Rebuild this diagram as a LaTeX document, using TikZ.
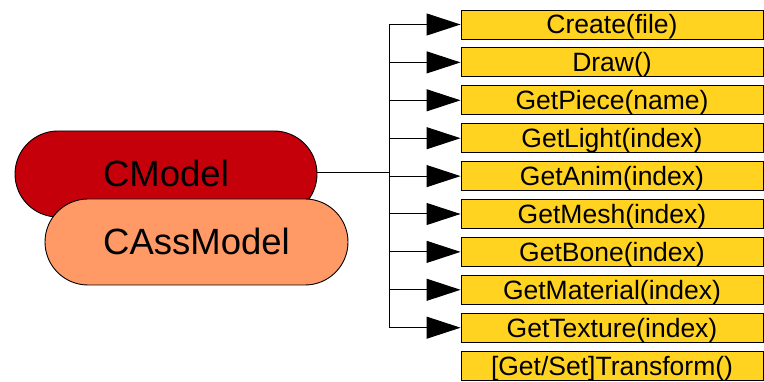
\documentclass[tikz,border=0pt]{standalone}
\usepackage{fontspec}
\setmainfont{Liberation Sans}
\usetikzlibrary{shapes.misc,arrows.meta}
\definecolor{boxyellow}{RGB}{255,211,32}
\definecolor{darkred}{RGB}{197,0,11}
\definecolor{salmon}{RGB}{255,153,102}
\tikzset{
  method/.style={draw=black, fill=boxyellow, line width=0.9pt, minimum width=302pt, minimum height=29pt, inner sep=0pt,
    font=\fontsize{26.5}{26.5}\selectfont, text height=19pt, text depth=0pt},
  cls/.style={draw=black, line width=0.9pt, rounded rectangle, minimum height=86pt, inner sep=0pt,
    font=\fontsize{36.5}{36.5}\selectfont, text height=26pt, text depth=0pt},
  conn/.style={draw=black, line width=1pt},
  arr/.style={conn, -{Triangle[length=34pt,width=22pt]}},
}
\begin{document}
\begin{tikzpicture}[x=1pt,y=-1pt]
\useasboundingbox (0,0) rectangle (764,382);
\node[cls, fill=darkred, minimum width=302pt] (cmodel) at (166,174) {CModel};
\node[cls, fill=salmon, minimum width=303pt] (cass) at (196.5,242) {CAssModel};
\foreach \name/\txt [count=\i from 0] in {
  create/Create(file), draw/Draw(), piece/GetPiece(name), light/GetLight(index),
  anim/GetAnim(index), mesh/GetMesh(index), bone/GetBone(index),
  material/GetMaterial(index), texture/GetTexture(index), transform/{[Get/Set]Transform()}} {
  \node[method] (\name) at (612, 24.5+\i*37.9) {\txt};
}
\coordinate (jmid) at (389,173);
\coordinate (jtop) at (jmid |- create.west);
\coordinate (jbot) at (jmid |- texture.west);
\draw[conn] (cmodel.east |- jmid) -- (jmid);
\draw[conn] (jtop) -- (jbot);
\foreach \name in {create,draw,piece,light,anim,mesh,bone,material,texture} {
  \draw[arr] (jmid |- \name.west) -- (\name.west);
}
\end{tikzpicture}
\end{document}
